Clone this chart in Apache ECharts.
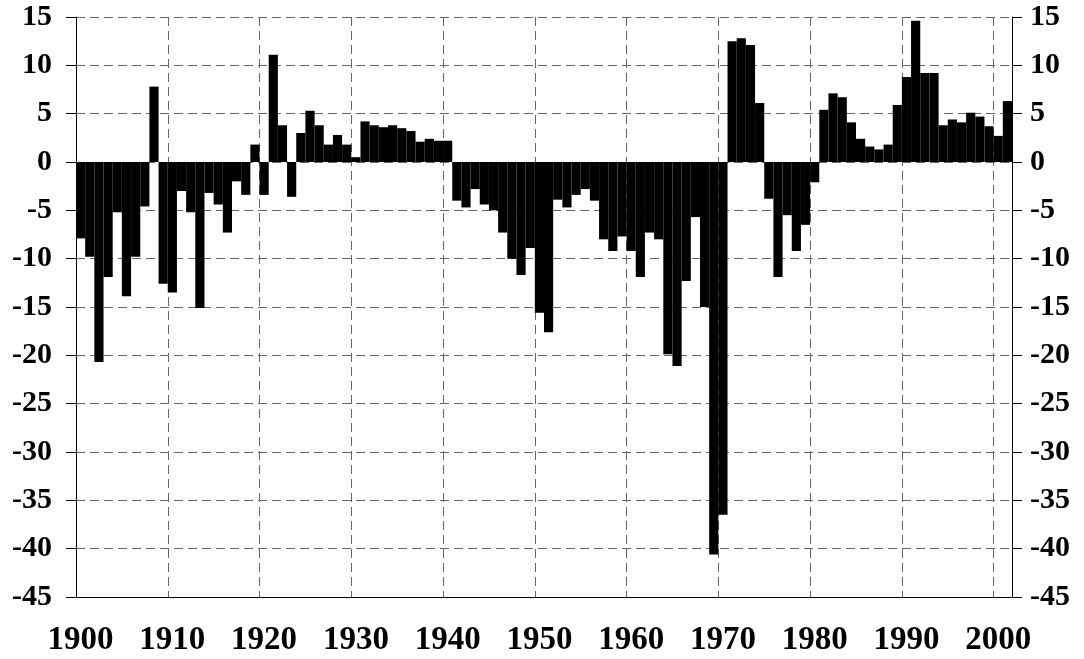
<!DOCTYPE html>
<html>
<head>
<meta charset="utf-8">
<script src="https://cdn.jsdelivr.net/npm/echarts@6/dist/echarts.min.js"></script>
<style>
    html, body { margin: 0; padding: 0; background: #fff; }
    #chart { width: 1084px; height: 659px; }
</style>
</head>
<body>
<div id="chart"></div>
<script>
    // years 1900 .. 2001
    var years = [
        1900, 1901, 1902, 1903, 1904, 1905, 1906, 1907, 1908, 1909,
        1910, 1911, 1912, 1913, 1914, 1915, 1916, 1917, 1918, 1919,
        1920, 1921, 1922, 1923, 1924, 1925, 1926, 1927, 1928, 1929,
        1930, 1931, 1932, 1933, 1934, 1935, 1936, 1937, 1938, 1939,
        1940, 1941, 1942, 1943, 1944, 1945, 1946, 1947, 1948, 1949,
        1950, 1951, 1952, 1953, 1954, 1955, 1956, 1957, 1958, 1959,
        1960, 1961, 1962, 1963, 1964, 1965, 1966, 1967, 1968, 1969,
        1970, 1971, 1972, 1973, 1974, 1975, 1976, 1977, 1978, 1979,
        1980, 1981, 1982, 1983, 1984, 1985, 1986, 1987, 1988, 1989,
        1990, 1991, 1992, 1993, 1994, 1995, 1996, 1997, 1998, 1999,
        2000, 2001
    ]
    var values = [
        -7.9, -9.8, -20.7, -11.9, -5.2, -13.9, -9.8, -4.6, 7.8, -12.6,
        -13.5, -3.0, -5.2, -15.1, -3.2, -4.4, -7.3, -2.0, -3.4, 1.8,
        -3.4, 11.1, 3.8, -3.6, 3.0, 5.3, 3.8, 1.8, 2.8, 1.8,
        0.5, 4.2, 3.8, 3.6, 3.8, 3.5, 3.2, 2.1, 2.4, 2.2,
        2.2, -4.0, -4.7, -2.8, -4.4, -5.0, -7.3, -10.0, -11.7, -8.9,
        -15.6, -17.6, -3.9, -4.7, -3.4, -2.8, -4.0, -8.0, -9.2, -7.7,
        -9.2, -11.9, -7.3, -8.0, -19.9, -21.1, -12.3, -5.7, -15.0, -40.6,
        -36.5, 12.5, 12.8, 12.1, 6.1, -3.8, -11.9, -5.5, -9.2, -6.5,
        -2.1, 5.4, 7.1, 6.7, 4.1, 2.4, 1.6, 1.3, 1.8, 5.9,
        8.8, 14.6, 9.2, 9.2, 3.8, 4.4, 4.1, 5.1, 4.7, 3.7,
        2.7, 6.3
    ]
    var yMin = -45
    var yMax = 15
    var yStep = 5

    var labelFont = {
        color: '#000',
        fontFamily: 'Liberation Serif',
        fontWeight: 'bold',
        fontSize: 30
    }
    var gridLine = {
        show: true,
        lineStyle: { color: '#666', width: 1, type: [9, 5] }
    }

    function yAxisOf(position, margin, align) {
        return {
            type: 'value',
            position: position,
            min: yMin,
            max: yMax,
            interval: yStep,
            axisLine: { show: true, onZero: false, lineStyle: { color: '#000', width: 1 } },
            axisTick: { show: true, inside: false, length: 10, lineStyle: { color: '#000' } },
            axisLabel: Object.assign({ margin: margin, align: align }, labelFont),
            splitLine: position === 'left' ? gridLine : { show: false }
        }
    }

    var dom = echarts.init(document.getElementById('chart'), null, { renderer: 'canvas' })
    var option = {
        animation: false,
        backgroundColor: '#fff',
        grid: { left: 76, right: 72, top: 17, bottom: 62 },
        xAxis: {
            type: 'category',
            data: years,
            boundaryGap: true,
            axisLine: { show: true, onZero: false, lineStyle: { color: '#000', width: 1 } },
            axisTick: { show: false },
            axisLabel: Object.assign({}, labelFont, {
                fontSize: 33,
                margin: 27,
                interval: function (index, value) { return Number(value) % 10 === 0 }
            }),
            splitLine: Object.assign({}, gridLine, {
                interval: function (index, value) { return Number(value) % 10 === 0 }
            })
        },
        yAxis: [
            yAxisOf('left', 24, 'right'),
            yAxisOf('right', 18, 'left')
        ],
        series: [{
            type: 'bar',
            data: values,
            barCategoryGap: '0%',
            itemStyle: { color: '#000' }
        }]
    }
    dom.setOption(option)
    window.addEventListener('resize', dom.resize)
</script>
</body>
</html>
